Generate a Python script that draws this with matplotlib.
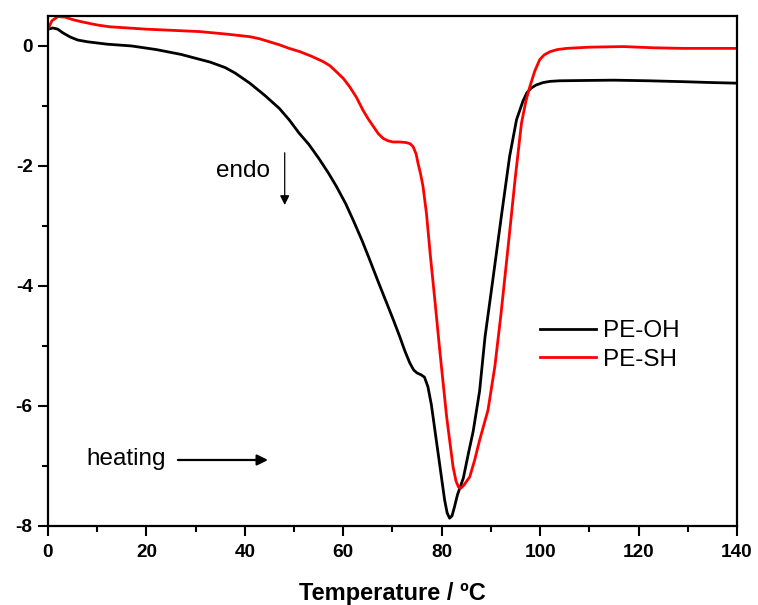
#!/usr/bin/env python3

import numpy as np
import matplotlib
matplotlib.use("Agg")
import matplotlib.pyplot as plt
from matplotlib.ticker import MultipleLocator

plt.rcParams['font.family'] = ['Liberation Sans', 'DejaVu Sans']
plt.rcParams['axes.unicode_minus'] = False

# PE-OH (black)
oh_t = [0, 1, 2, 3, 4.5, 6, 8, 10, 12, 17, 22, 27, 33, 36, 38, 41, 44, 47,
        49, 51, 53, 55, 57, 58.6, 60.5, 62, 63.8, 65.4, 67.1, 68.8, 70.2,
        71.5, 72.5, 73.5, 74.3, 75, 75.8, 76.5, 77.2, 77.9, 78.9, 79.8, 80.6,
        81.1, 81.6, 82.1, 82.6, 83.2, 84.4, 85.4, 86.4, 87.7, 88.8,
        90.3, 92.2, 93.8, 95.2, 96.5, 97.3, 98.2, 99.2, 100.6, 102, 104, 109,
        115, 122, 129, 135, 140]
oh_q = [0.28, 0.30, 0.28, 0.22, 0.15, 0.10, 0.07, 0.05, 0.03, 0.00, -0.06,
        -0.14, -0.27, -0.36, -0.45, -0.62, -0.82, -1.04, -1.23, -1.45, -1.64,
        -1.87, -2.12, -2.34, -2.63, -2.90, -3.24, -3.57, -3.93, -4.28, -4.57,
        -4.85, -5.08, -5.28, -5.40, -5.45, -5.48, -5.52, -5.68, -5.98, -6.57,
        -7.10, -7.57, -7.78, -7.87, -7.83, -7.68, -7.48, -7.20, -6.80, -6.42,
        -5.75, -4.85, -3.95, -2.79, -1.84, -1.23, -0.92, -0.78, -0.70,
        -0.65, -0.61, -0.59, -0.58, -0.575, -0.57, -0.58, -0.595, -0.61, -0.62]

# PE-SH (red)
sh_t = [0, 0.8, 2, 3.5, 5, 7, 10, 12.5, 20, 30.8, 36, 41, 43, 45, 47, 49,
        51.2, 53.5, 55.9, 57.3, 58.6, 60, 61.3, 62.7, 64, 65.1, 66.1, 67.1,
        68.1, 69.1, 70.1, 71.5, 72.8, 73.6, 74.2, 74.8, 75.2, 75.7, 76.2, 76.9,
        77.7, 78.6, 79.6, 81.0, 82.3, 82.9, 83.4, 83.9, 84.5, 85.1, 85.7, 86.7,
        87.7, 89.4, 90.8, 92.0, 93.5, 94.9, 96.2, 97.1, 97.9, 98.9, 99.9,
        100.8, 102, 103.5, 105.4, 110, 116.9, 123, 129, 140]
sh_q = [0.28, 0.42, 0.49, 0.48, 0.44, 0.40, 0.35, 0.32, 0.28, 0.24, 0.20,
        0.155, 0.12, 0.07, 0.02, -0.04, -0.095, -0.17, -0.26, -0.33, -0.43,
        -0.54, -0.68, -0.86, -1.07, -1.22, -1.34, -1.46, -1.54, -1.58, -1.60,
        -1.60, -1.61, -1.63, -1.68, -1.80, -1.96, -2.13, -2.34, -2.79, -3.50,
        -4.23, -5.07, -6.18, -7.01, -7.25, -7.35, -7.37, -7.32, -7.25, -7.18,
        -6.90, -6.57, -6.07, -5.34, -4.50, -3.34, -2.23, -1.29, -0.92, -0.68,
        -0.42, -0.23, -0.15, -0.095, -0.06, -0.04, -0.02, -0.01, -0.03, -0.04,
        -0.04]

fig = plt.figure(figsize=(7.58, 6.05), dpi=100)
ax = fig.add_axes([0.0633, 0.1306, 0.9090, 0.843])

ax.plot(oh_t, oh_q, color='black', lw=2, label='PE-OH')
ax.plot(sh_t, sh_q, color='#ff0000', lw=2, label='PE-SH')

ax.set_xlim(0, 140)
ax.set_ylim(-8, 0.5)
ax.set_xticks(range(0, 141, 20))
ax.set_xticklabels([str(v) for v in range(0, 141, 20)], fontsize=13.7, fontweight='bold')
ax.set_yticks([-8, -6, -4, -2, 0])
ax.set_yticklabels(['-8', '-6', '-4', '-2', '0'], fontsize=13.7, fontweight='bold')
ax.xaxis.set_minor_locator(MultipleLocator(10))
ax.yaxis.set_minor_locator(MultipleLocator(1))
ax.tick_params(which='both', direction='out', width=1.5, top=False, right=False)
ax.tick_params(which='major', length=7)
ax.tick_params(which='minor', length=4)
ax.tick_params(axis='x', pad=6)
ax.tick_params(axis='y', pad=4)
for s in ax.spines.values():
    s.set_linewidth(1.6)

ax.set_xlabel('Temperature / ºC', fontsize=17, fontweight='bold', labelpad=15)

ax.legend(loc='center left', bbox_to_anchor=(0.714, 0.354), frameon=False,
          fontsize=17.5, handlelength=2.3, handletextpad=0.3,
          labelspacing=0.28, borderpad=0, borderaxespad=0)

ax.text(34.2, -2.09, 'endo', fontsize=17.5, ha='left', va='center')
ax.annotate('', xy=(48.1, -2.65), xytext=(48.1, -1.78),
            arrowprops=dict(arrowstyle='-|>', color='black', lw=0.9,
                            mutation_scale=14, shrinkA=0, shrinkB=0))

ax.text(7.7, -6.89, 'heating', fontsize=17.5, ha='left', va='center')
ax.annotate('', xy=(44.7, -6.9), xytext=(26.4, -6.9),
            arrowprops=dict(arrowstyle='-|>', color='black', lw=1.6,
                            mutation_scale=16, shrinkA=0, shrinkB=0))

plt.savefig('out.png', dpi=100)
